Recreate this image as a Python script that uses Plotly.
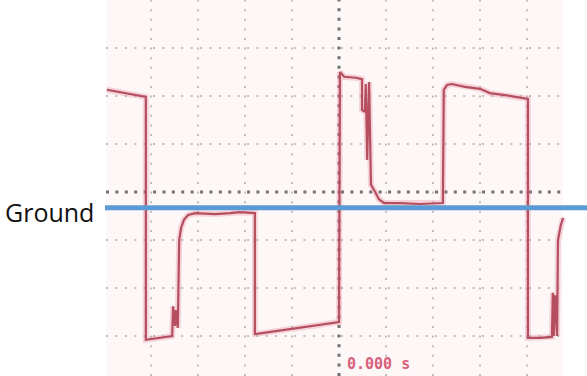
import plotly.graph_objects as go

# Oscilloscope trace, in screen divisions (time div, voltage div)
time_div = [-4.94, -4.55, -4.17, -4.11, -4.11, -3.81, -3.55, -3.53, -3.49, -3.47, -3.43,
            -3.40, -3.36, -3.30, -3.21, -3.06, -2.64, -2.32, -2.11, -1.79, -1.79, -1.64,
            -0.83, -0.19, 0.00, 0.02, 0.11, 0.36, 0.49, 0.49, 0.55, 0.57, 0.60, 0.64, 0.66,
            0.68, 0.77, 0.85, 0.96, 1.30, 1.72, 2.21, 2.23, 2.30, 2.40, 2.68, 3.00, 3.21,
            3.53, 3.85, 4.02, 4.02, 4.28, 4.53, 4.55, 4.57, 4.60, 4.64, 4.66, 4.72, 4.77]
volt_div = [2.13, 2.06, 1.98, 1.98, -3.08, -3.04, -3.00, -2.38, -2.79, -2.46, -2.83,
            -1.00, -0.75, -0.58, -0.48, -0.44, -0.46, -0.44, -0.42, -0.44, -2.96, -2.94,
            -2.83, -2.75, -2.71, 2.50, 2.40, 2.38, 2.35, 1.71, 1.67, 2.25, 0.67, 2.29, 0.60,
            0.15, 0.00, -0.15, -0.23, -0.23, -0.25, -0.23, 2.13, 2.23, 2.25, 2.19, 2.15, 2.06,
            2.02, 1.96, 1.94, -3.04, -3.04, -3.02, -2.10, -3.00, -2.15, -3.00, -1.00, -0.69, -0.54]

grid_x = [-4, -3, -2, -1, 1, 2, 3, 4]
grid_y = [-3, -2, -1, 1, 2, 3]
ground_level = -0.33
ground_label = "Ground"
time_label = "0.000 s"

X_RANGE = [-4.979, 5.277]
Y_RANGE = [-3.833, 4.0]
PHOTO_X = [-4.957, 4.766]

fig = go.Figure()

# glow under trace
fig.add_trace(go.Scatter(x=time_div, y=volt_div, mode="lines",
                         line=dict(color="rgba(225,120,140,0.28)", width=6),
                         hoverinfo="skip", showlegend=False))
fig.add_trace(go.Scatter(x=time_div, y=volt_div, mode="lines",
                         line=dict(color="#b54f60", width=2.2),
                         hoverinfo="skip", showlegend=False))

shapes = []
# photo background
shapes.append(dict(type="rect", xref="x", yref="y", x0=PHOTO_X[0], x1=PHOTO_X[1],
                   y0=Y_RANGE[0], y1=Y_RANGE[1], fillcolor="#fdf7f7",
                   line=dict(width=0), layer="below"))
for gx in grid_x:
    shapes.append(dict(type="line", xref="x", yref="y", x0=gx, x1=gx,
                       y0=Y_RANGE[0], y1=Y_RANGE[1], layer="below",
                       line=dict(color="rgba(120,120,120,0.45)", width=2, dash="2px,7.6px")))
for gy in grid_y:
    shapes.append(dict(type="line", xref="x", yref="y", x0=PHOTO_X[0], x1=PHOTO_X[1],
                       y0=gy, y1=gy, layer="below",
                       line=dict(color="rgba(120,120,120,0.45)", width=2, dash="2px,7.4px")))
# center axes (darker)
shapes.append(dict(type="line", xref="x", yref="y", x0=0, x1=0,
                   y0=Y_RANGE[0], y1=Y_RANGE[1], layer="below",
                   line=dict(color="rgba(80,80,80,0.8)", width=3, dash="3px,6.6px")))
shapes.append(dict(type="line", xref="x", yref="y", x0=PHOTO_X[0], x1=PHOTO_X[1],
                   y0=0, y1=0, layer="below",
                   line=dict(color="rgba(80,80,80,0.8)", width=3, dash="3px,6.4px")))
# ground line
shapes.append(dict(type="line", xref="x", yref="y", x0=X_RANGE[0], x1=X_RANGE[1],
                   y0=ground_level, y1=ground_level, layer="above",
                   line=dict(color="#5b9bd5", width=5)))

fig.update_layout(
    width=587, height=376,
    margin=dict(l=105, r=0, t=0, b=0),
    paper_bgcolor="white", plot_bgcolor="white",
    xaxis=dict(range=X_RANGE, visible=False, showgrid=False, zeroline=False),
    yaxis=dict(range=Y_RANGE, visible=False, showgrid=False, zeroline=False),
    shapes=shapes,
    showlegend=False,
    annotations=[
        dict(text=ground_label, xref="paper", yref="y", x=0, y=-0.42,
             xanchor="right", yanchor="middle", xshift=-9, showarrow=False,
             font=dict(family="Open Sans", size=25, color="#111111")),
        dict(text="<b>" + time_label + "</b>", xref="x", yref="y", x=0.12, y=-3.58,
             xanchor="left", yanchor="middle", showarrow=False,
             font=dict(family="DejaVu Sans Mono", size=15, color="#d8607c")),
    ],
)

fig.write_html("out.html", config={"displayModeBar": False},
               post_script="document.body.style.margin='0';document.body.style.overflow='hidden';")
